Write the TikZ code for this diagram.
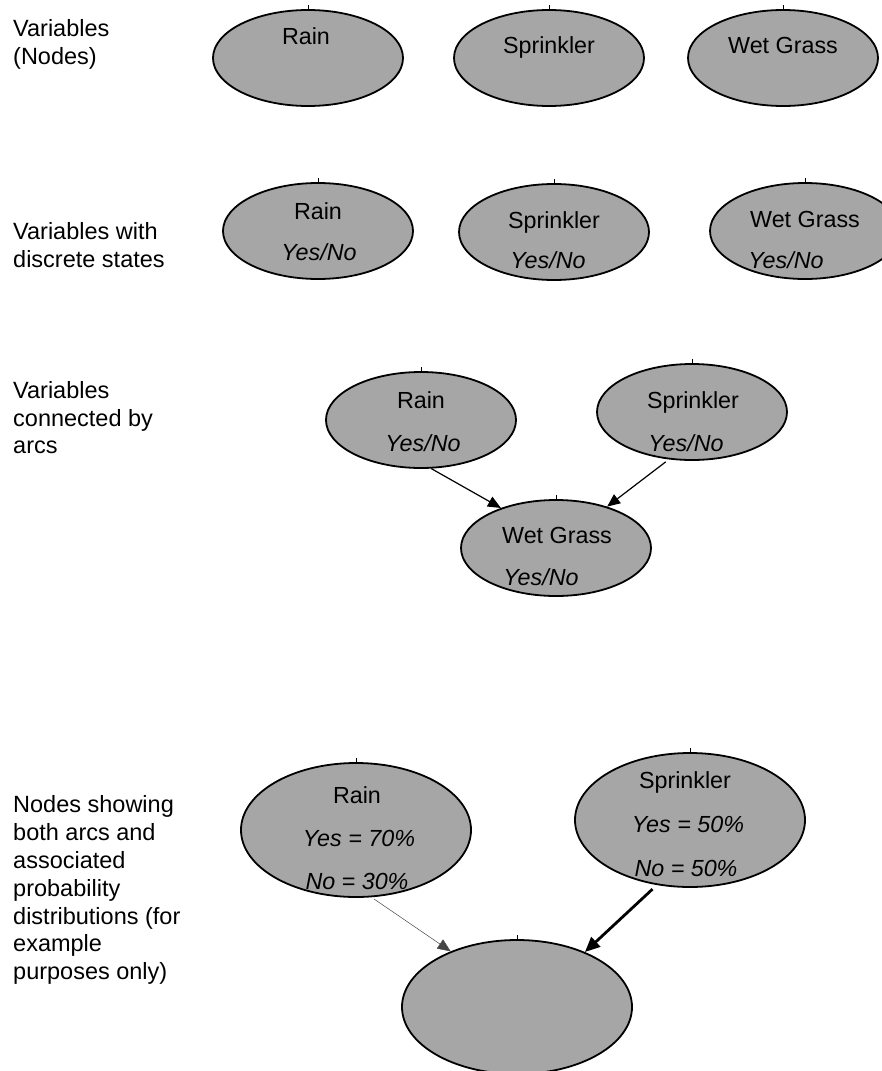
\documentclass[tikz,border=0pt]{standalone}
\usepackage{fontspec}
\setmainfont{Liberation Sans}
\usetikzlibrary{shapes.geometric,arrows.meta}
\definecolor{nodegray}{RGB}{166,166,166}
\definecolor{thinline}{RGB}{70,70,70}

\tikzset{
  var/.style={ellipse, draw=black, line width=1.8pt, fill=nodegray, inner sep=0pt,
              minimum width=190pt, minimum height=96pt},
  bigvar/.style={var, minimum width=230pt, minimum height=134pt},
  lbl/.style={font=\fontsize{23.3}{27.7}\selectfont, inner sep=0pt, anchor=base},
  st/.style={lbl, font=\fontsize{23.3}{27.7}\selectfont\itshape},
  side/.style={font=\fontsize{23.5}{27.8}\selectfont, align=left, inner sep=0pt, anchor=north west},
  tick/.style={line width=0.6pt},
  arc/.style={-{Triangle[length=13pt,width=11pt]}, line width=1.2pt},
  weakarc/.style={-{Triangle[length=13pt,width=11pt]}, line width=0.5pt, draw=thinline},
  strongarc/.style={-{Triangle[length=15pt,width=13pt]}, line width=2.8pt},
}

\begin{document}
\begin{tikzpicture}[x=1pt, y=-1pt]
\useasboundingbox (0,0) rectangle (881,1071);

% --- side captions ---
\node[side] (capA) at (13,19.7) {Variables\\(Nodes)};
\node[side] (capB) at (13,222) {Variables with\\discrete states};
\node[side] (capC) at (13,381) {Variables\\connected by\\arcs};
\node[side] (capD) at (13,795.7) {Nodes showing\\both arcs and\\associated\\probability\\distributions (for\\example\\purposes only)};

% --- row 1: plain variables ---
\node[var] (rainA) at (308,58) {};
\node[var] (sprA)  at (549,58) {};
\node[var] (wetA)  at (783,58) {};
\node[lbl] (rainAt) at (306,44) {Rain};
\node[lbl] (sprAt)  at (549,53) {Sprinkler};
\node[lbl] (wetAt)  at (783,53) {Wet Grass};

% --- row 2: variables with states ---
\node[var] (rainB) at (318,231) {};
\node[var] (sprB)  at (554,232) {};
\node[var] (wetB)  at (805,231) {};
\node[lbl] (rainBt) at (318,219) {Rain};
\node[st]  (rainBs) at (319,260) {Yes/No};
\node[lbl] (sprBt)  at (554,228) {Sprinkler};
\node[st]  (sprBs)  at (548,268) {Yes/No};
\node[lbl] (wetBt)  at (805,227) {Wet Grass};
\node[st]  (wetBs)  at (786,268) {Yes/No};

% --- row 3: variables connected by arcs ---
\node[var] (rainC) at (421,420) {};
\node[var] (sprC)  at (692,412) {};
\node[var] (wetC)  at (556,548) {};
\node[lbl] (rainCt) at (421,408) {Rain};
\node[st]  (rainCs) at (423,451) {Yes/No};
\node[lbl] (sprCt)  at (693,408) {Sprinkler};
\node[st]  (sprCs)  at (686,451) {Yes/No};
\node[lbl] (wetCt)  at (557,543) {Wet Grass};
\node[st]  (wetCs)  at (541,585) {Yes/No};
\draw[arc] (rainC.-78) -- (wetC.144);
\draw[arc, shorten <=4pt] (sprC.-116) -- (wetC.39);

% --- row 4: arcs with probability tables ---
\node[bigvar] (rainD) at (356,830) {};
\node[bigvar] (sprD)  at (690,820) {};
\node[bigvar] (botD)  at (517,1007) {};
\node[lbl] (rainDt)  at (357,803) {Rain};
\node[st]  (rainDy)  at (359,846) {Yes = 70\%};
\node[st]  (rainDn)  at (357,889) {No = 30\%};
\node[lbl] (sprDt)   at (685,788) {Sprinkler};
\node[st]  (sprDy)   at (688,832) {Yes = 50\%};
\node[st]  (sprDn)   at (686,876) {No = 50\%};
\draw[weakarc, shorten <=3pt] (rainD.-77) -- (botD.140);
\draw[strongarc, shorten <=6pt] (sprD.-117) -- (botD.39);

% --- connection marks on top of each ellipse ---
\foreach \n in {rainA,sprA,wetA,rainB,sprB,wetB,rainC,sprC,wetC,rainD,sprD,botD}
  \draw[tick] (\n.north) -- ++(0,-4);
\end{tikzpicture}
\end{document}
